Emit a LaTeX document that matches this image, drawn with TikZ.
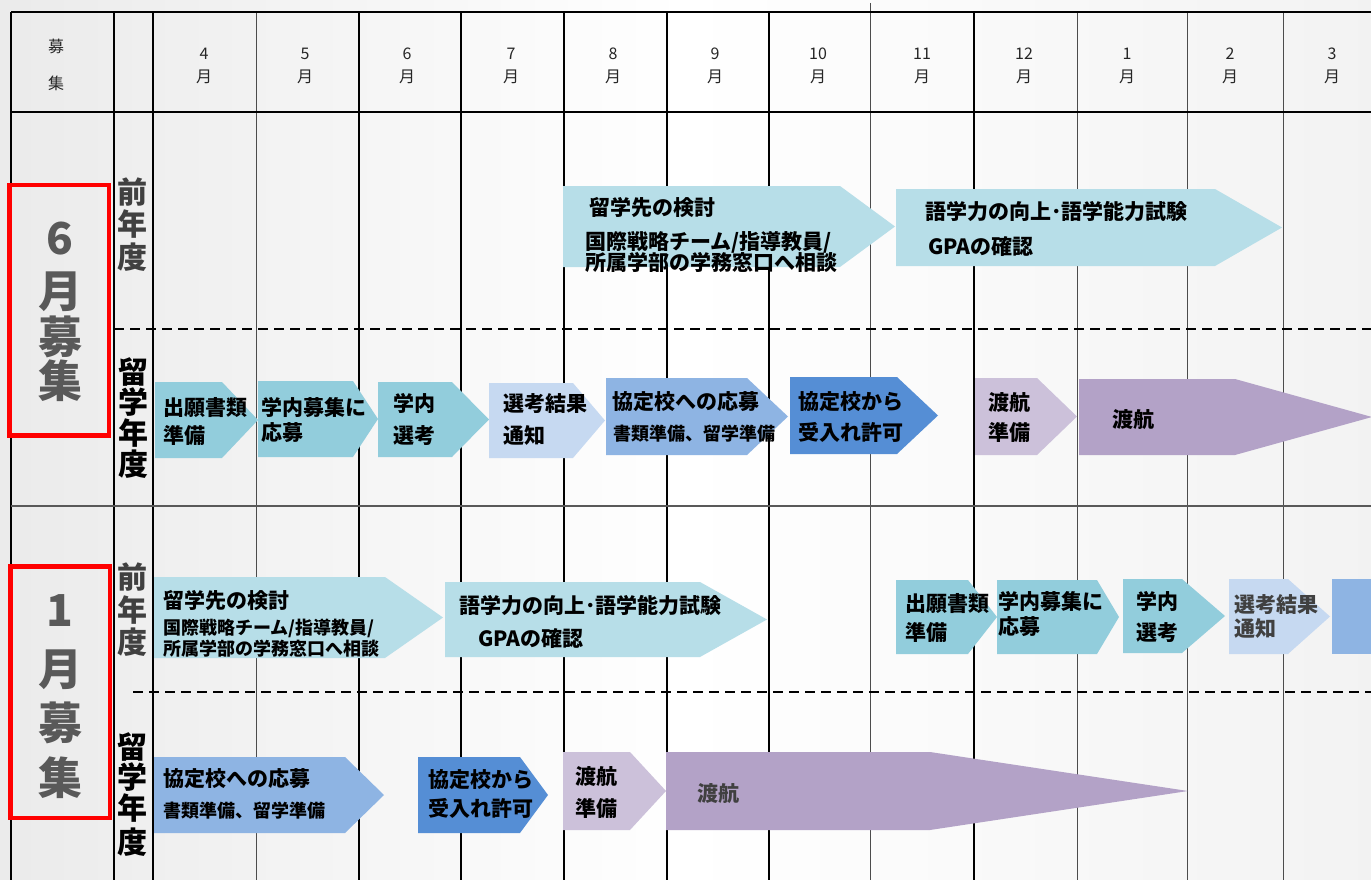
\documentclass[tikz,border=0pt]{standalone}
\usepackage{fontspec}
\newfontfamily\jp{Noto Sans CJK JP}
\definecolor{lb}{HTML}{B7DEE8}
\definecolor{teal}{HTML}{92CDDC}
\definecolor{pale}{HTML}{C6D9F1}
\definecolor{midb}{HTML}{8EB4E3}
\definecolor{darkb}{HTML}{558ED5}
\definecolor{lav}{HTML}{CCC1DA}
\definecolor{purp}{HTML}{B3A2C7}
\definecolor{biggray}{HTML}{595959}
\definecolor{dg}{HTML}{404040}
\newcommand\penta[6]{\fill[#6] (#1,#2) -- (#4,#2) -- (#5,{(#2+#3)/2}) -- (#4,#3) -- (#1,#3) -- cycle;}
\tikzset{
  gthick/.style={line width=2pt, draw=black},
  gmed/.style={line width=1.4pt, draw=black},
  gthin/.style={line width=1pt, draw=black!70},
  dashline/.style={line width=1.8pt, dash pattern=on 10pt off 6pt},
  redbox/.style={draw=red, line width=4.5pt},
  tA/.style={anchor=base west, inner sep=0pt, font=\jp\bfseries\fontsize{21}{25}\selectfont},
  tB/.style={anchor=base west, inner sep=0pt, font=\jp\bfseries\fontsize{18}{22}\selectfont},
  mon/.style={anchor=base, inner sep=0pt, font=\jp\fontsize{16}{20}\selectfont, text=black!85},
  big/.style={anchor=base, inner sep=0pt, font=\jp\bfseries\fontsize{44}{48}\selectfont, text=biggray},
  side/.style={anchor=base, inner sep=0pt, font=\jp\bfseries\fontsize{30}{34}\selectfont},
}
\begin{document}
\begin{tikzpicture}[x=1pt,y=-1pt]
\useasboundingbox (0,0) rectangle (1371,880);
\shade[left color=black!8, right color=black!5, middle color=white] (0,0) rectangle (1371,880);
% grid
\foreach \xx in {11,114,153,359,461,564,769} \draw[gthick] (\xx,12) -- (\xx,880);
\foreach \xx in {667,974} \draw[gmed] (\xx,12) -- (\xx,880);
\foreach \xx in {256,1077,1187,1283} \draw[gthin] (\xx,12) -- (\xx,880);
\draw[gthin] (870,3) -- (870,880);
\draw[line width=2.5pt] (11,12) -- (1371,12);
\draw[line width=2.5pt] (11,112) -- (1371,112);
\draw[line width=2pt, draw=black!65] (11,506) -- (1371,506);
\draw[dashline] (114,329) -- (1371,329);
\draw[dashline] (133,692) -- (1371,692);
% header
\node[mon] (hbo) at (56,53) {募};
\node[mon] (hshu) at (56,90) {集};
\foreach \mx/\mn [count=\i] in {204/4,305/5,407/6,511/7,613/8,715/9,818/10,922/11,1024/12,1127/1,1230/2,1332/3}{
  \node[mon] (mn\i) at (\mx,60) {\mn};
  \node[mon] (mt\i) at (\mx,83) {月};
}
% arrows
\penta{563}{186}{267}{840}{895}{lb}
\penta{896}{189}{266}{1215}{1282}{lb}
\penta{155}{382}{458}{222}{258}{teal}
\penta{258}{381}{457}{353}{378}{teal}
\penta{378}{382}{457}{452}{489}{teal}
\penta{489}{383}{458}{573}{605}{pale}
\penta{606}{378}{455}{747}{788}{midb}
\penta{790}{377}{454}{897}{938}{darkb}
\penta{975}{378}{455}{1037}{1077}{lav}
\penta{1079}{379}{455}{1235}{1372}{purp}
\penta{154}{577}{658}{385}{443}{lb}
\penta{445}{582}{657}{700}{767}{lb}
\penta{896}{580}{654}{968}{997}{teal}
\penta{997}{580}{654}{1097}{1119}{teal}
\penta{1123}{579}{653}{1182}{1225}{teal}
\penta{1229}{579}{654}{1288}{1330}{pale}
\fill[midb] (1332,579) rectangle (1371,654);
\penta{154}{757}{833}{345}{384}{midb}
\penta{418}{757}{833}{520}{548}{darkb}
\penta{563}{752}{830}{630}{666}{lav}
\penta{666}{752}{830}{930}{1188}{purp}
% red boxes
\draw[redbox] (9.5,185) rectangle (109,435.5);
\draw[redbox] (10.5,566.5) rectangle (110,818);
% big labels
\node[big] (s6a) at (60,254) {6};
\node[big] (s6b) at (60,307) {月};
\node[big] (s6c) at (60,353) {募};
\node[big] (s6d) at (60,397) {集};
\node[big] (s1a) at (60,626) {1};
\node[big] (s1b) at (60,685) {月};
\node[big] (s1c) at (60,739) {募};
\node[big] (s1d) at (60,794) {集};
% side labels
\node[side, text=dg] (p1a) at (132,203) {前};
\node[side, text=dg] (p1b) at (132,235) {年};
\node[side, text=dg] (p1c) at (132,268) {度};
\node[side] (r1a) at (133,383) {留};
\node[side] (r1b) at (133,413) {学};
\node[side] (r1c) at (133,444) {年};
\node[side] (r1d) at (133,475) {度};
\node[side, text=dg] (p2a) at (132,588) {前};
\node[side, text=dg] (p2b) at (132,621) {年};
\node[side, text=dg] (p2c) at (132,653) {度};
\node[side] (r2a) at (132,758) {留};
\node[side] (r2b) at (132,788) {学};
\node[side] (r2c) at (132,819) {年};
\node[side] (r2d) at (132,853) {度};
% arrow texts, top section
\node[tA] (a1a) at (589,215) {留学先の検討};
\node[tA] (a1b) at (585,249) {国際戦略チーム/指導教員/};
\node[tA] (a1c) at (585,270) {所属学部の学務窓口へ相談};
\node[tA] (a2a) at (925,219) {語学力の向上･語学能力試験};
\node[tA] (a2b) at (928,254) {GPAの確認};
\node[tA] (b1a) at (163,415) {出願書類};
\node[tA] (b1b) at (163,443) {準備};
\node[tA] (b2a) at (261,415) {学内募集に};
\node[tA] (b2b) at (261,440) {応募};
\node[tA] (b3a) at (393,411) {学内};
\node[tA] (b3b) at (393,443) {選考};
\node[tA] (b4a) at (503,411) {選考結果};
\node[tA] (b4b) at (503,443) {通知};
\node[tA] (b5a) at (612,409) {協定校への応募};
\node[tB] (b5b) at (613,440) {書類準備、留学準備};
\node[tA] (b6a) at (798,409) {協定校から};
\node[tA] (b6b) at (798,440) {受入れ許可};
\node[tA] (b7a) at (988,410) {渡航};
\node[tA] (b7b) at (988,440) {準備};
\node[tA] (b8a) at (1112,427) {渡航};
% bottom section
\node[tA] (c1a) at (163,608) {留学先の検討};
\node[tB] (c1b) at (163,634) {国際戦略チーム/指導教員/};
\node[tB] (c1c) at (163,655) {所属学部の学務窓口へ相談};
\node[tA] (c2a) at (459,613) {語学力の向上･語学能力試験};
\node[tA] (c2b) at (478,646) {GPAの確認};
\node[tA] (d1a) at (905,611) {出願書類};
\node[tA] (d1b) at (905,640) {準備};
\node[tA] (d2a) at (998,609) {学内募集に};
\node[tA] (d2b) at (998,634) {応募};
\node[tA] (d3a) at (1136,609) {学内};
\node[tA] (d3b) at (1136,640) {選考};
\node[tA, text=dg] (d4a) at (1234,612) {選考結果};
\node[tA, text=dg] (d4b) at (1234,636) {通知};
\node[tA] (e1a) at (163,786) {協定校への応募};
\node[tB] (e1b) at (163,817) {書類準備、留学準備};
\node[tA] (e2a) at (428,787) {協定校から};
\node[tA] (e2b) at (428,816) {受入れ許可};
\node[tA] (e3a) at (575,784) {渡航};
\node[tA] (e3b) at (575,816) {準備};
\node[tA, text=dg] (e4a) at (697,801) {渡航};
\end{tikzpicture}
\end{document}
